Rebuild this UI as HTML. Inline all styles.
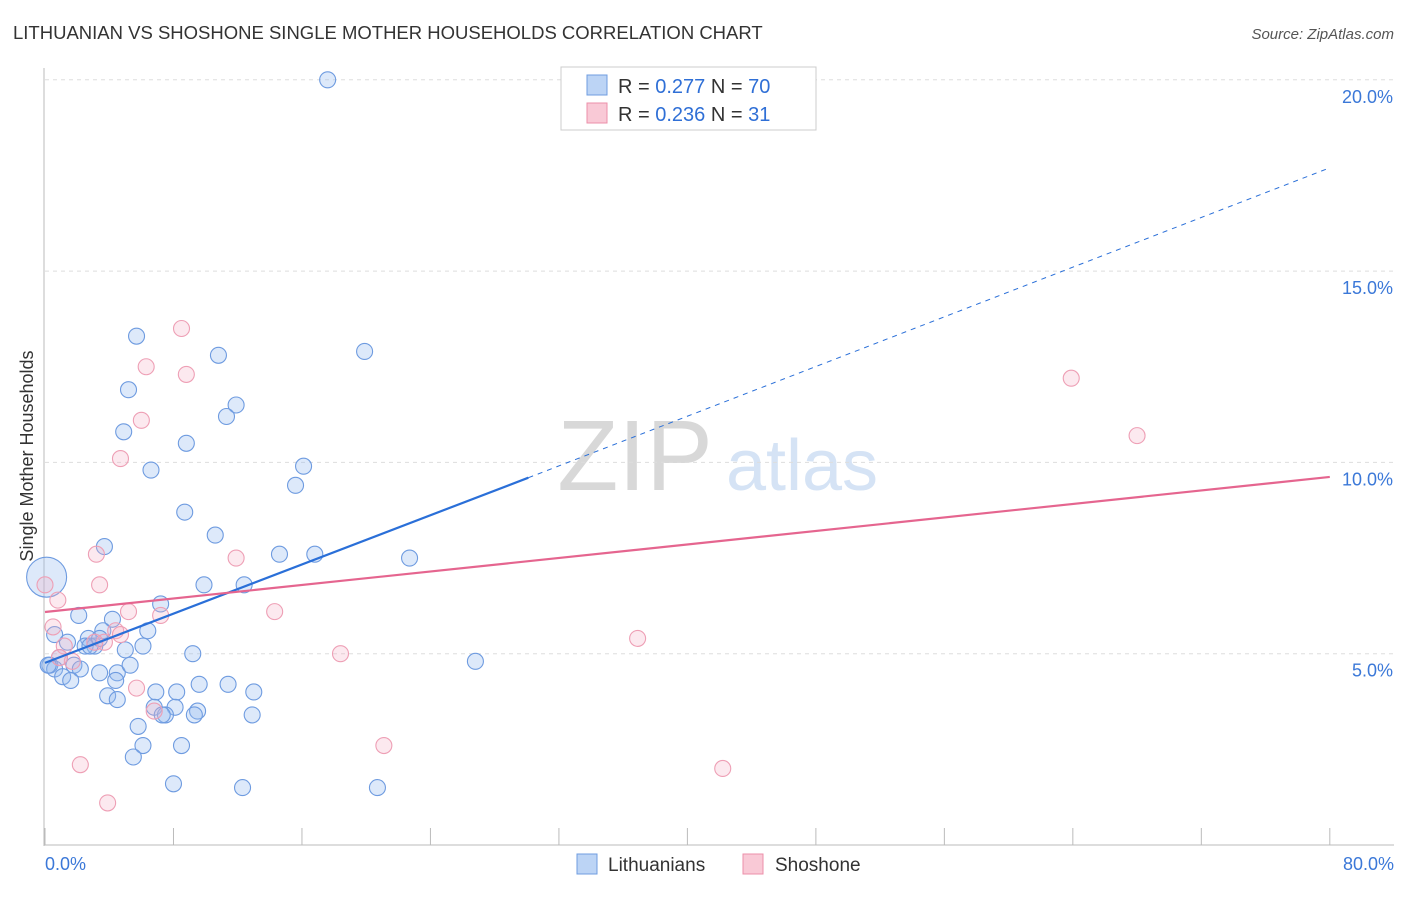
<!DOCTYPE html>
<html><head><meta charset="utf-8"><style>
body{margin:0;background:#fff;font-family:"Liberation Sans",sans-serif;}
svg text{font-family:"Liberation Sans",sans-serif;}
</style></head><body>
<svg width="1406" height="892">
<text x="13" y="39" font-size="18.5" fill="#333">LITHUANIAN VS SHOSHONE SINGLE MOTHER HOUSEHOLDS CORRELATION CHART</text>
<text x="1394" y="39" font-size="15" fill="#555" font-style="italic" text-anchor="end">Source: ZipAtlas.com</text>
<text x="33" y="456" font-size="18" fill="#333" transform="rotate(-90 33 456)" text-anchor="middle">Single Mother Households</text>
<g><text x="635" y="490" font-size="100" fill="#d8d8d8" font-family="Liberation Serif" text-anchor="middle">ZIP</text><text x="802" y="490" font-size="72" fill="#d5e3f5" text-anchor="middle">atlas</text></g>
<g id="grid"></g><g id="axes"></g><g id="pts"></g><g id="lines"></g>
<g>
<rect x="561" y="67" width="255" height="63" fill="#fff" stroke="#ccc"/>
<rect x="587" y="75" width="20" height="20" fill="#bcd4f5" stroke="#6f9de0"/>
<rect x="587" y="103" width="20" height="20" fill="#f9c9d6" stroke="#ec8fa9"/>
<text x="618" y="93" font-size="20" fill="#333">R = <tspan fill="#2f6fd6">0.277</tspan>   N = <tspan fill="#2f6fd6">70</tspan></text>
<text x="618" y="121" font-size="20" fill="#333">R = <tspan fill="#2f6fd6">0.236</tspan>   N =  <tspan fill="#2f6fd6">31</tspan></text>
</g>
<g>
<rect x="577" y="854" width="20" height="20" fill="#bcd4f5" stroke="#6f9de0"/>
<text x="608" y="871" font-size="19" fill="#333">Lithuanians</text>
<rect x="743" y="854" width="20" height="20" fill="#f9c9d6" stroke="#ec8fa9"/>
<text x="775" y="871" font-size="19" fill="#333">Shoshone</text>
</g>
</svg>
<script>
const yTicks=[5,10,15,20];
const xTickLabels=["0.0%","80.0%"];
const blueX=[17.6,5.7,10.8,19.9,5.2,11.9,11.3,4.9,8.8,16.1,6.6,15.6,8.7,10.6,3.7,14.6,16.8,22.7,9.9,12.4,7.2,2.1,4.2,6.4,3.6,1.4,2.7,0.6,6.1,5.0,3.1,9.2,2.5,0.9,0.3,1.8,0.6,2.2,4.5,3.4,1.1,1.6,4.4,11.4,9.6,8.2,6.9,13.0,3.9,4.5,8.1,6.8,9.5,7.5,7.3,9.3,12.9,5.8,6.1,8.5,5.5,8.0,12.3,20.7,26.8,0.1,0.2,2.8,5.3,3.4];
const blueY=[20.0,13.3,12.8,12.9,11.9,11.5,11.2,10.8,10.5,9.9,9.8,9.4,8.7,8.1,7.8,7.6,7.6,7.5,6.8,6.8,6.3,6.0,5.9,5.6,5.6,5.3,5.4,5.5,5.2,5.1,5.2,5.0,5.2,4.9,4.7,4.7,4.6,4.6,4.5,4.5,4.4,4.3,4.3,4.2,4.2,4.0,4.0,4.0,3.9,3.8,3.6,3.6,3.5,3.4,3.4,3.4,3.4,3.1,2.6,2.6,2.3,1.6,1.5,1.5,4.8,7.0,4.7,5.2,4.7,5.4];
const blueR=[8,8,8,8,8,8,8,8,8,8,8,8,8,8,8,8,8,8,8,8,8,8,8,8,8,8,8,8,8,8,8,8,8,8,8,8,8,8,8,8,8,8,8,8,8,8,8,8,8,8,8,8,8,8,8,8,8,8,8,8,8,8,8,8,8,20,8,8,8,8];
const pinkX=[8.5,6.3,8.8,6.0,4.7,3.2,11.9,3.4,5.2,14.3,7.2,0.8,0.5,4.4,3.7,1.2,1.7,18.4,36.9,63.9,68.0,5.7,6.8,21.1,2.2,42.2,3.9,0.0,3.1,0.9,4.7];
const pinkY=[13.5,12.5,12.3,11.1,10.1,7.6,7.5,6.8,6.1,6.1,6.0,6.4,5.7,5.6,5.3,5.2,4.8,5.0,5.4,12.2,10.7,4.1,3.5,2.6,2.1,2.0,1.1,6.8,5.3,4.9,5.5];
const blueLine=[4.76,9.6,17.7];
const blueSolidEnd=30.1;
const pinkLine=[6.09,9.62];
const X=v=>45+v*16.06, Y=v=>845-v*38.26;
const NS="http://www.w3.org/2000/svg";
function mk(t,a,p){const e=document.createElementNS(NS,t);for(const k in a)e.setAttribute(k,a[k]);p.appendChild(e);return e;}
const grid=document.getElementById('grid'),axes=document.getElementById('axes'),pts=document.getElementById('pts'),lines=document.getElementById('lines');
yTicks.forEach(t=>{
 const l=mk('line',{x1:45,x2:1394,y1:Y(t),y2:Y(t),stroke:'#ddd','stroke-dasharray':'4,4'},grid);
 
 
 const tx=mk('text',{x:1393,y:Y(t)+23,'font-size':18,fill:'#3b78d8','text-anchor':'end'},axes);
 tx.textContent=t.toFixed(1)+'%';
 
 
});
const ax=mk('line',{x1:44,x2:44,y1:68,y2:846,stroke:'#bbb'},axes);


const bx=mk('line',{x1:44,x2:1394,y1:845,y2:845,stroke:'#bbb'},axes);


for(let i=0;i<=10;i++){const tk=mk('line',{x1:X(i*8),x2:X(i*8),y1:828,y2:845,stroke:'#bbb'},axes);
 
 }
[[0,'start',45],[80,'end',1394]].forEach((d,i)=>{const t=mk('text',{x:d[2],y:870,'font-size':18,fill:'#3b78d8','text-anchor':d[1]},axes);t.textContent=xTickLabels[i];
 
 });
blueX.forEach((x,i)=>{const c=mk('circle',{cx:X(x),cy:Y(blueY[i]),r:blueR[i],fill:'rgba(150,188,240,0.32)',stroke:'#6e9be0','stroke-width':1.1},pts);
 
 });
pinkX.forEach((x,i)=>{const c=mk('circle',{cx:X(x),cy:Y(pinkY[i]),r:8,fill:'rgba(245,175,198,0.28)',stroke:'#ee9fb5','stroke-width':1.1},pts);
 
 });
const b1=mk('line',{x1:X(0),y1:Y(blueLine[0]),x2:X(blueSolidEnd),y2:Y(blueLine[1]),stroke:'#2a6fd8','stroke-width':2.2},lines);


const b2=mk('line',{x1:X(blueSolidEnd),y1:Y(blueLine[1]),x2:X(80),y2:Y(blueLine[2]),stroke:'#2a6fd8','stroke-width':1,'stroke-dasharray':'5,5'},lines);


const p1=mk('line',{x1:X(0),y1:Y(pinkLine[0]),x2:X(80),y2:Y(pinkLine[1]),stroke:'#e5658f','stroke-width':2.2},lines);


</script>
</body></html>
